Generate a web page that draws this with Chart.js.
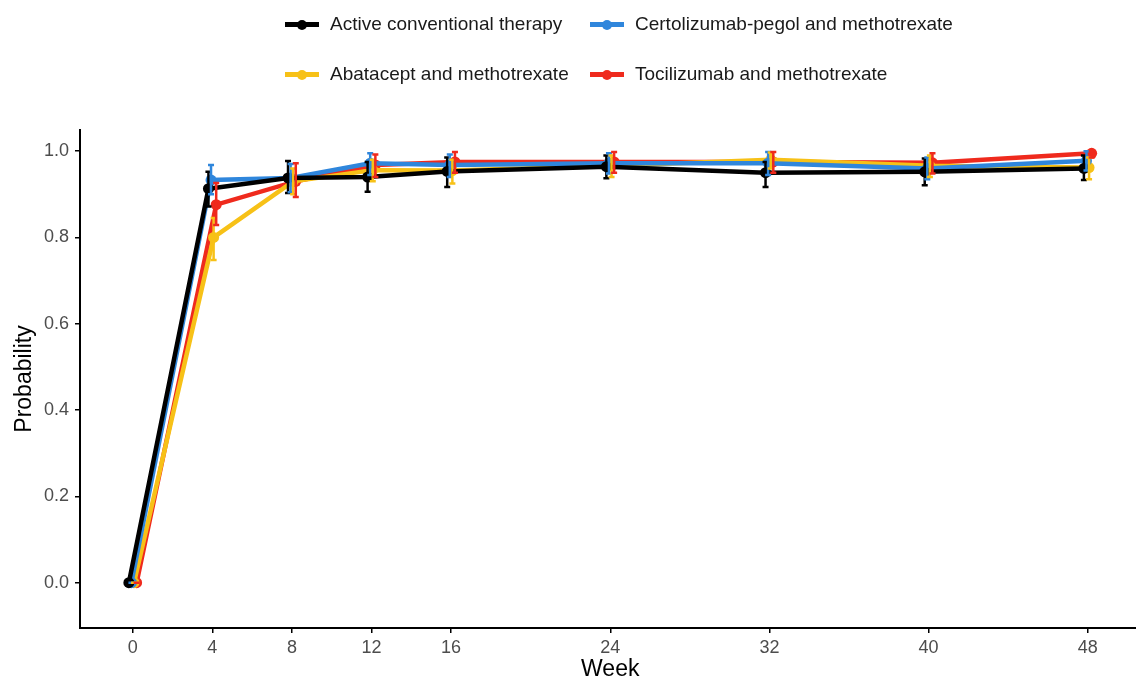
<!DOCTYPE html>
<html>
<head>
<meta charset="utf-8">
<script src="https://cdn.jsdelivr.net/npm/chart.js@4.4.0/dist/chart.umd.min.js"></script>
<style>
  html, body { margin: 0; padding: 0; background: #fff; overflow: hidden; }
  #wrap { position: relative; width: 1136px; height: 683px; overflow: hidden; }
  #legend { position: absolute; left: 0; top: 0; width: 1136px; height: 100px; font-family: "Liberation Sans", Arial, sans-serif; font-size: 19px; color: #1a1a1a; }
  .item { position: absolute; height: 24px; line-height: 24px; white-space: nowrap; }
  .key { position: absolute; left: 0; top: 10px; width: 34px; height: 5px; }
  .dot { position: absolute; left: 12px; top: -2px; width: 10px; height: 10px; border-radius: 50%; }
  .label { position: absolute; left: 45px; top: 0; }
</style>
</head>
<body>
<div id="wrap">
  <canvas id="chart" width="1146" height="683"></canvas>
  <div id="legend"></div>
</div>
<script>
// weeks of follow-up
const weeks = [0, 4, 8, 12, 16, 24, 32, 40, 48];
const yTicks = [0, 0.2, 0.4, 0.6, 0.8, 1.0];

const seriesNames = [
    "Active conventional therapy",
    "Certolizumab-pegol and methotrexate",
    "Abatacept and methotrexate",
    "Tocilizumab and methotrexate"
];
const seriesColors = ["#000000", "#2f86dc", "#f7c117", "#ef2a1d"];

// estimated probabilities
const activeProb = [0, 0.913, 0.938, 0.940, 0.953, 0.964, 0.950, 0.952, 0.960];
const certoProb  = [0, 0.933, 0.938, 0.972, 0.968, 0.972, 0.972, 0.960, 0.978];
const abataProb  = [0, 0.800, 0.930, 0.956, 0.955, 0.966, 0.980, 0.966, 0.962];
const tociProb   = [0, 0.876, 0.930, 0.968, 0.975, 0.975, 0.975, 0.973, 0.995];

// interval bounds
const activeLow  = [0, 0.872, 0.903, 0.906, 0.917, 0.937, 0.917, 0.921, 0.933];
const activeHigh = [0, 0.952, 0.977, 0.975, 0.985, 0.990, 0.975, 0.983, 0.990];
const certoLow   = [0, 0.900, 0.905, 0.945, 0.940, 0.948, 0.945, 0.935, 0.955];
const certoHigh  = [0, 0.968, 0.970, 0.995, 0.992, 0.995, 0.998, 0.985, 1.000];
const abataLow   = [0, 0.748, 0.900, 0.930, 0.925, 0.940, 0.960, 0.940, 0.935];
const abataHigh  = [0, 0.845, 0.960, 0.980, 0.980, 0.990, 0.997, 0.990, 0.985];
const tociLow    = [0, 0.829, 0.894, 0.940, 0.950, 0.950, 0.950, 0.948, 0.985];
const tociHigh   = [0, 0.926, 0.972, 0.992, 0.998, 0.998, 0.998, 0.995, 1.000];

const probs = [activeProb, certoProb, abataProb, tociProb];
const lows = [activeLow, certoLow, abataLow, tociLow];
const highs = [activeHigh, certoHigh, abataHigh, tociHigh];

// horizontal dodge between groups (in weeks)
const dodgeStep = 0.13;

const datasets = probs.map((vals, s) => ({
    label: seriesNames[s],
    data: vals.map((v, i) => ({ x: weeks[i] + (s - 1.5) * dodgeStep, y: v, lo: lows[s][i], hi: highs[s][i] })),
    borderColor: seriesColors[s],
    backgroundColor: seriesColors[s],
    borderWidth: 4.5,
    pointRadius: 5.5,
    pointHoverRadius: 5.5,
    pointBorderWidth: 0,
    tension: 0,
    fill: false
}));

// vertical error bars with small caps
const errorBars = {
    id: 'errorBars',
    afterDatasetsDraw(chart) {
        const c = chart.ctx;
        const y = chart.scales.y;
        chart.data.datasets.forEach((ds, di) => {
            const meta = chart.getDatasetMeta(di);
            c.save();
            c.strokeStyle = ds.borderColor;
            c.lineWidth = 2.5;
            meta.data.forEach((pt, i) => {
                const d = ds.data[i];
                const top = y.getPixelForValue(d.hi);
                const bot = y.getPixelForValue(d.lo);
                c.beginPath();
                c.moveTo(pt.x, top); c.lineTo(pt.x, bot);
                c.moveTo(pt.x - 3, top); c.lineTo(pt.x + 3, top);
                c.moveTo(pt.x - 3, bot); c.lineTo(pt.x + 3, bot);
                c.stroke();
            });
            c.restore();
        });
    }
};

const fontFamily = '"Liberation Sans", Arial, sans-serif';
const tickFont = { family: fontFamily, size: 18 };

new Chart(document.getElementById('chart'), {
    type: 'line',
    data: { datasets: datasets },
    options: {
        responsive: false,
        animation: false,
        layout: { padding: { top: 130, right: 0, left: 0, bottom: 0 } },
        plugins: { legend: { display: false }, tooltip: { enabled: false } },
        scales: {
            x: {
                type: 'linear',
                min: -2.65,
                max: 50.65,
                afterBuildTicks: s => { s.ticks = weeks.map(v => ({ value: v })); },
                afterFit: s => { s.height = 55; },
                ticks: { color: '#4d4d4d', font: tickFont, padding: 4, callback: v => v },
                grid: { drawOnChartArea: false, drawTicks: true, tickLength: 5, color: '#000', lineWidth: 1.5 },
                border: { display: true, color: '#000', width: 2 },
                title: { display: true, text: 'Week', color: '#000', font: { family: fontFamily, size: 23 }, padding: { top: 0, bottom: 0 } }
            },
            y: {
                type: 'linear',
                min: -0.105,
                max: 1.049,
                afterBuildTicks: s => { s.ticks = yTicks.map(v => ({ value: v })); },
                afterFit: s => { s.width = 80; },
                ticks: { color: '#4d4d4d', font: tickFont, padding: 6, callback: v => v.toFixed(1) },
                grid: { drawOnChartArea: false, drawTicks: true, tickLength: 5, color: '#000', lineWidth: 1.5 },
                border: { display: true, color: '#000', width: 2 },
                title: { display: true, text: 'Probability', color: '#000', font: { family: fontFamily, size: 23 }, padding: { top: 11, bottom: 0 } }
            }
        }
    },
    plugins: [errorBars]
});

// two-column legend above the plot
const legend = document.getElementById('legend');
seriesNames.forEach((name, s) => {
    const col = s % 2, row = Math.floor(s / 2);
    const item = document.createElement('div');
    item.className = 'item';
    item.style.left = (285 + col * 305) + 'px';
    item.style.top = (12 + row * 50) + 'px';
    item.innerHTML = '<div class="key" style="background:' + seriesColors[s] + '"><div class="dot" style="background:' + seriesColors[s] + '"></div></div><span class="label">' + name + '</span>';
    legend.appendChild(item);
});
</script>
</body>
</html>
